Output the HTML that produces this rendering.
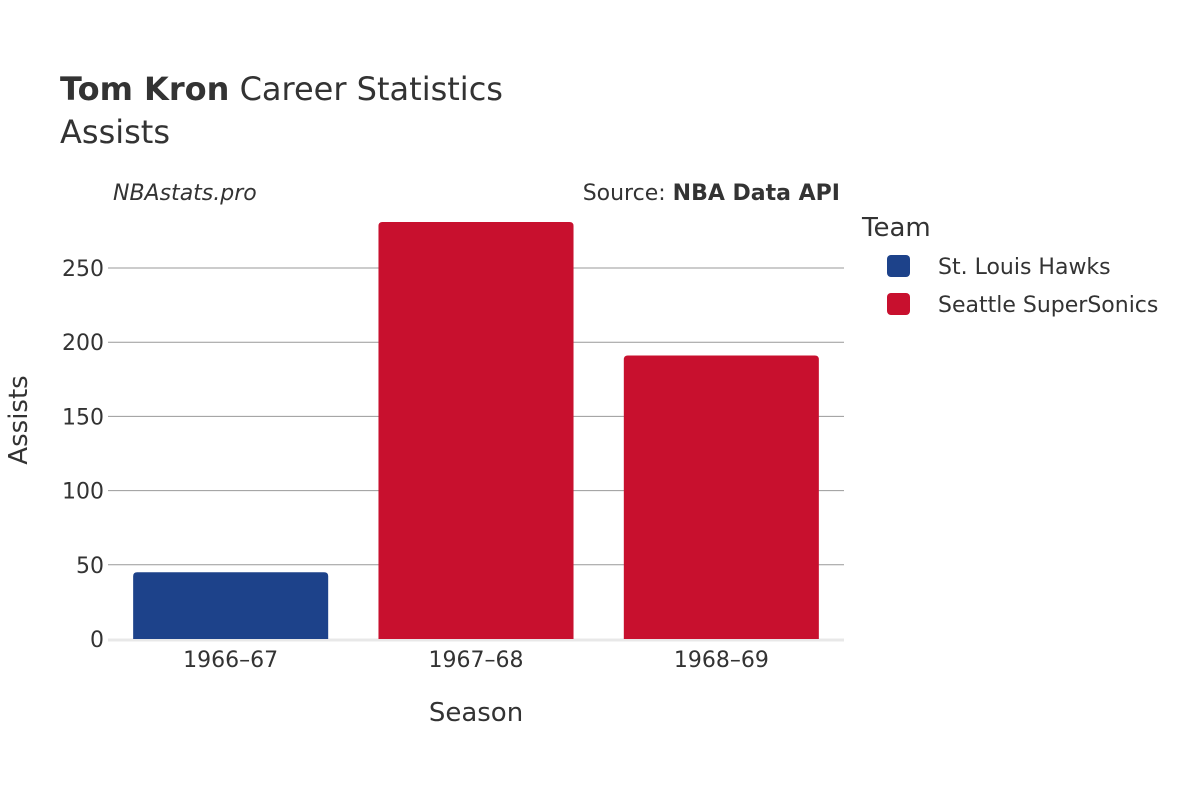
<!DOCTYPE html>
<html><head><meta charset="utf-8"><style>
body{margin:0;background:#fff;}
svg{font-family:"DejaVu Sans","Liberation Sans",sans-serif;}
</style></head><body>
<svg width="1200" height="800">
<text x="60" y="100" font-size="32" fill="#333"><tspan font-weight="bold">Tom Kron</tspan> Career Statistics</text>
<text x="60" y="143" font-size="32" fill="#333">Assists</text>
<text x="113" y="200" font-size="22" font-style="italic" fill="#333">NBAstats.pro</text>
<text x="840" y="200" font-size="22" fill="#333" text-anchor="end">Source: <tspan font-weight="bold">NBA Data API</tspan></text>
<g id="grid"></g>
<g id="bars"></g>
<g id="xt"></g>
<text x="476" y="721" font-size="26" fill="#333" text-anchor="middle">Season</text>
<text transform="translate(27,420) rotate(-90)" font-size="26" fill="#333" text-anchor="middle">Assists</text>
<text x="862" y="236" font-size="26" fill="#333">Team</text>
<g><rect x="887" y="255" width="23" height="22" rx="4" fill="#1d428a"/><text x="938" y="274" font-size="22" fill="#333">St. Louis Hawks</text></g>
<g><rect x="887" y="293" width="23" height="22" rx="4" fill="#c8102e"/><text x="938" y="312" font-size="22" fill="#333">Seattle SuperSonics</text></g>
</svg>
<script>
const seasons=["1966–67","1967–68","1968–69"];
const assists=[45,281,191];
const teams=["hawks","sonics","sonics"];
const yTicks=[0,50,100,150,200,250];
const colors={hawks:"#1d428a",sonics:"#c8102e"};
const NS="http://www.w3.org/2000/svg";
const x0=108,x1=844,y0=639,yScale=371/250;
const y=v=>y0-v*yScale;
const bw=(x1-x0)/seasons.length;
const grid=document.getElementById('grid'),bars=document.getElementById('bars'),xt=document.getElementById('xt');
function mk(t,a,p){const e=document.createElementNS(NS,t);for(const k in a)e.setAttribute(k,a[k]);p.appendChild(e);return e;}
yTicks.forEach(v=>{
 if(v>0){const l=mk('line',{x1:x0,x2:x1,y1:y(v),y2:y(v),stroke:'#999','stroke-width':1},grid);
 
 }
 const t=mk('text',{x:x0-4,y:y(v)+8,'font-size':22,fill:'#333','text-anchor':'end'},grid);
 t.textContent=v;
 
 
});
const base=mk('line',{x1:x0,x2:x1,y1:y0+1,y2:y0+1,stroke:'#e8e8e8','stroke-width':3},grid);


seasons.forEach((s,i)=>{
 const cx=x0+bw*(i+0.5),w=bw*0.795,top=y(assists[i]),h=y0-top;
 const p=mk('path',{d:`M${cx-w/2},${y0}V${top+4}Q${cx-w/2},${top} ${cx-w/2+4},${top}H${cx+w/2-4}Q${cx+w/2},${top} ${cx+w/2},${top+4}V${y0}Z`,fill:colors[teams[i]]},bars);
 
 
 const t=mk('text',{x:cx,y:667,'font-size':22,fill:'#333','text-anchor':'middle'},xt);
 t.textContent=s;
 
 
});
</script>
</body></html>
